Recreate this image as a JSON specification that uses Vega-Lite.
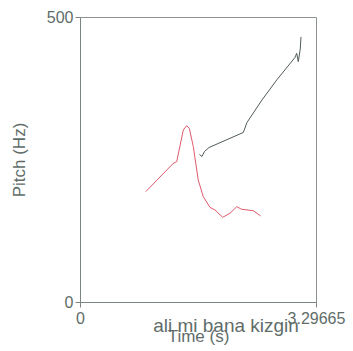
{
  "$schema": "https://vega.github.io/schema/vega-lite/v6.json",
  "width": 236,
  "height": 285,
  "autosize": {"type": "none"},
  "padding": {"left": 80, "top": 17, "right": 37, "bottom": 49},
  "background": "white",
  "config": {
    "view": {"stroke": "#8c9290", "strokeWidth": 1},
    "font": "Liberation Sans"
  },
  "datasets": {
    "pitch": [
      {"series": "red", "t": 0.918, "hz": 193.5},
      {"series": "red", "t": 1.303, "hz": 243.3},
      {"series": "red", "t": 1.351, "hz": 246.1},
      {"series": "red", "t": 1.443, "hz": 301.8},
      {"series": "red", "t": 1.490, "hz": 309.3},
      {"series": "red", "t": 1.527, "hz": 304.7},
      {"series": "red", "t": 1.583, "hz": 272.5},
      {"series": "red", "t": 1.652, "hz": 214.0},
      {"series": "red", "t": 1.722, "hz": 184.7},
      {"series": "red", "t": 1.816, "hz": 166.0},
      {"series": "red", "t": 1.886, "hz": 161.4},
      {"series": "red", "t": 1.993, "hz": 148.6},
      {"series": "red", "t": 2.095, "hz": 155.6},
      {"series": "red", "t": 2.189, "hz": 167.2},
      {"series": "red", "t": 2.259, "hz": 162.6},
      {"series": "red", "t": 2.421, "hz": 160.2},
      {"series": "red", "t": 2.524, "hz": 150.9},
      {"series": "dark", "t": 1.669, "hz": 258.8},
      {"series": "dark", "t": 1.704, "hz": 255.3},
      {"series": "dark", "t": 1.739, "hz": 264.0},
      {"series": "dark", "t": 1.802, "hz": 271.0},
      {"series": "dark", "t": 2.281, "hz": 297.4},
      {"series": "dark", "t": 2.333, "hz": 315.0},
      {"series": "dark", "t": 2.542, "hz": 354.4},
      {"series": "dark", "t": 2.748, "hz": 389.5},
      {"series": "dark", "t": 3.003, "hz": 429.0},
      {"series": "dark", "t": 3.027, "hz": 436.3},
      {"series": "dark", "t": 3.049, "hz": 421.6},
      {"series": "dark", "t": 3.077, "hz": 443.9},
      {"series": "dark", "t": 3.087, "hz": 465.0}
    ]
  },
  "layer": [
    {
      "data": {"name": "pitch"},
      "mark": {"type": "line", "strokeWidth": 1},
      "encoding": {
        "x": {
          "field": "t",
          "type": "quantitative",
          "scale": {"domain": [0, 3.29665], "nice": false, "zero": false},
          "axis": {
            "values": [0, 3.29665],
            "labelExpr": "datum.value == 0 ? '0' : '3.29665'",
            "labelFlush": false,
            "grid": false,
            "tickSize": 5,
            "tickColor": "#7d8582",
            "domainColor": "#7d8582",
            "labelFontSize": 16,
            "labelColor": "#5f6d69",
            "labelPadding": 3,
            "title": "Time (s)",
            "titleFontSize": 17,
            "titleFontWeight": "normal",
            "titleColor": "#5f6d69",
            "titlePadding": 2
          }
        },
        "y": {
          "field": "hz",
          "type": "quantitative",
          "scale": {"domain": [0, 500], "nice": false},
          "axis": {
            "values": [0, 500],
            "grid": false,
            "tickSize": 5,
            "tickColor": "#7d8582",
            "domainColor": "#7d8582",
            "labelFontSize": 16,
            "labelColor": "#5f6d69",
            "labelPadding": 2,
            "title": "Pitch (Hz)",
            "titleFontSize": 17,
            "titleFontWeight": "normal",
            "titleColor": "#5f6d69",
            "titlePadding": 18
          }
        },
        "color": {
          "field": "series",
          "type": "nominal",
          "scale": {"domain": ["red", "dark"], "range": ["#de5a6e", "#4f5c58"]},
          "legend": null
        }
      }
    },
    {
      "data": {"values": [{"t": 2.04, "hz": -42, "label": "ali mi bana kizgin"}]},
      "mark": {"type": "text", "fontSize": 19, "color": "#5f6d69", "baseline": "middle", "align": "center"},
      "encoding": {
        "x": {"field": "t", "type": "quantitative"},
        "y": {"field": "hz", "type": "quantitative"},
        "text": {"field": "label"}
      }
    }
  ]
}
